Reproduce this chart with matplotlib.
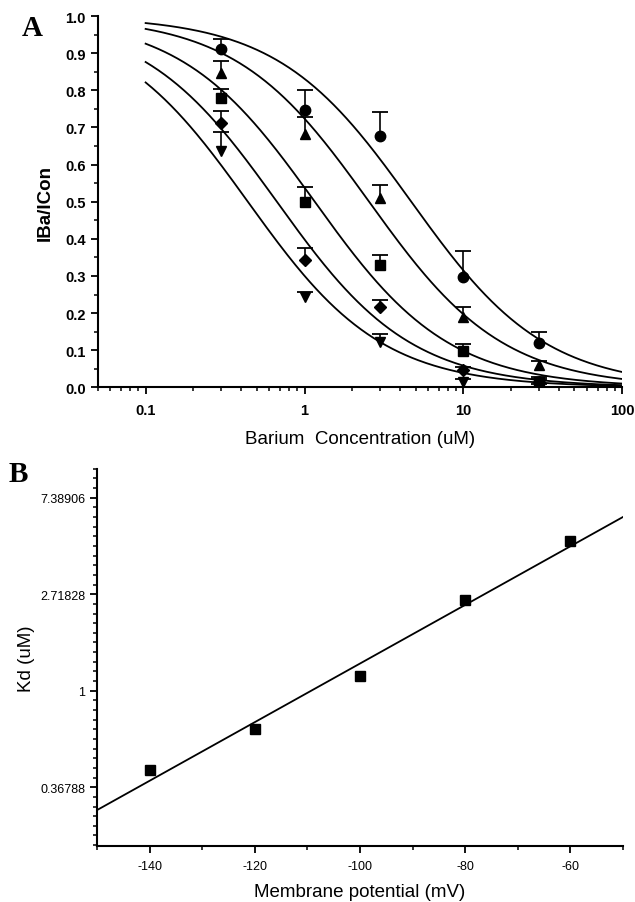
import numpy as np
import matplotlib
matplotlib.use("Agg")
import matplotlib.pyplot as plt
from matplotlib.ticker import FixedLocator, NullFormatter, LogLocator

plt.rcParams["axes.unicode_minus"] = False

# panel A: fractional current vs barium concentration
conc = [0.3, 1, 3, 10, 30]
series_markers = ["o", "^", "s", "D", "v"]
mean_circle = [0.911, 0.747, 0.677, 0.296, 0.119]
err_circle = [0.027, 0.053, 0.065, 0.071, 0.029]
mean_up = [0.846, 0.682, 0.509, 0.189, 0.059]
err_up = [0.034, 0.046, 0.036, 0.027, 0.011]
mean_square = [0.779, 0.500, 0.329, 0.097, 0.015]
err_square = [0.024, 0.041, 0.027, 0.019, 0.012]
mean_diamond = [0.712, 0.342, 0.215, 0.046, 0.015]
err_diamond = [0.032, 0.033, 0.020, 0.009, 0.006]
mean_down = [0.636, 0.243, 0.121, 0.013, 0.005]
err_down = [0.051, 0.015, 0.022, 0.008, 0.004]
kd_fit = [4.7, 2.55, 1.16, 0.67, 0.44]
hill_n = 1.03

# panel B: Kd vs membrane potential
potential = [-140, -120, -100, -80, -60]
kd_values = [0.44, 0.67, 1.16, 2.55, 4.7]
kd_ticks = [0.36788, 1, 2.71828, 7.38906]
kd_tick_labels = ["0.36788", "1", "2.71828", "7.38906"]

means = [mean_circle, mean_up, mean_square, mean_diamond, mean_down]
errs = [err_circle, err_up, err_square, err_diamond, err_down]

fig = plt.figure(figsize=(6.35, 9.03), dpi=100)
ax_a = fig.add_axes([0.154, 0.570, 0.826, 0.411])
ax_b = fig.add_axes([0.153, 0.062, 0.828, 0.418])

cx = np.logspace(-1, 2, 300)
for kd in kd_fit:
    ax_a.plot(cx, 1 / (1 + (cx / kd) ** hill_n), color="black", linewidth=1.3)

# upper-only error bars: stem plus a flat cap
for m, mk, e in zip(means, series_markers, errs):
    top = np.array(m) + np.array(e)
    ax_a.vlines(conc, m, top, color="black", linewidth=1.2)
    ax_a.plot(conc, top, "_", color="black", markersize=11, markeredgewidth=1.3)
    ms = 6.5 if mk == "D" else 7.5
    ax_a.plot(conc, m, mk, color="black", markersize=ms, linestyle="none")

ax_a.set_xscale("log")
ax_a.set_xlim(0.05, 100)
ax_a.set_ylim(0, 1.0)
ax_a.set_xticks([0.1, 1, 10, 100])
ax_a.set_xticklabels(["0.1", "1", "10", "100"])
ax_a.xaxis.set_minor_locator(LogLocator(base=10, subs=np.arange(2, 10)))
ax_a.xaxis.set_minor_formatter(NullFormatter())
ax_a.set_yticks(np.round(np.arange(0, 1.01, 0.1), 1))
ax_a.set_yticks(np.arange(0.05, 1.0, 0.1), minor=True)
ax_a.yaxis.set_major_formatter(plt.FuncFormatter(lambda v, p: f"{v:.1f}"))
for lbl in ax_a.get_xticklabels() + ax_a.get_yticklabels():
    lbl.set_fontweight("bold")
    lbl.set_fontsize(10.5)
    lbl.set_family("Liberation Sans")
ax_a.tick_params(axis="x", which="major", pad=6)
ax_a.set_xlabel("Barium  Concentration (uM)", fontsize=13.5, family="Liberation Sans", labelpad=10)
ax_a.set_ylabel("IBa/ICon", fontsize=13.5, family="Liberation Sans", fontweight="bold", labelpad=8)

# panel B
ax_b.plot(potential, kd_values, "s", color="black", markersize=6.5)
slope, intercept = np.polyfit(potential, np.log(kd_values), 1)
vx = np.array([-150, -50])
ax_b.plot(vx, np.exp(intercept + slope * vx), color="black", linewidth=1.3)
ax_b.set_yscale("log")
ax_b.set_xlim(-150, -50)
ax_b.set_ylim(0.2, 10)
ax_b.yaxis.set_major_locator(FixedLocator(kd_ticks))
ax_b.set_yticklabels(kd_tick_labels)
ax_b.yaxis.set_minor_locator(FixedLocator(np.exp(np.arange(-1.6, 2.31, 0.1))))
ax_b.yaxis.set_minor_formatter(NullFormatter())
ax_b.set_xticks([-140, -120, -100, -80, -60])
ax_b.set_xticks([-150, -130, -110, -90, -70, -50], minor=True)
for lbl in ax_b.get_xticklabels() + ax_b.get_yticklabels():
    lbl.set_fontsize(9)
    lbl.set_family("Liberation Sans")
ax_b.tick_params(axis="x", which="major", pad=5)
ax_b.set_xlabel("Membrane potential (mV)", fontsize=13.5, family="Liberation Sans", labelpad=8)
ax_b.set_ylabel("Kd (uM)", fontsize=13.5, family="Liberation Sans", labelpad=4)

for ax in (ax_a, ax_b):
    ax.spines["top"].set_visible(False)
    ax.spines["right"].set_visible(False)
    ax.spines["left"].set_linewidth(1.5)
    ax.spines["bottom"].set_linewidth(1.5)
    ax.tick_params(which="major", direction="out", length=5, width=1.3)
    ax.tick_params(which="minor", direction="out", length=3, width=1.1)

fig.text(0.035, 0.968, "A", fontsize=21, fontweight="bold", family="Liberation Serif", va="center")
fig.text(0.013, 0.475, "B", fontsize=21, fontweight="bold", family="Liberation Serif", va="center")

fig.savefig("out.png", dpi=100)
